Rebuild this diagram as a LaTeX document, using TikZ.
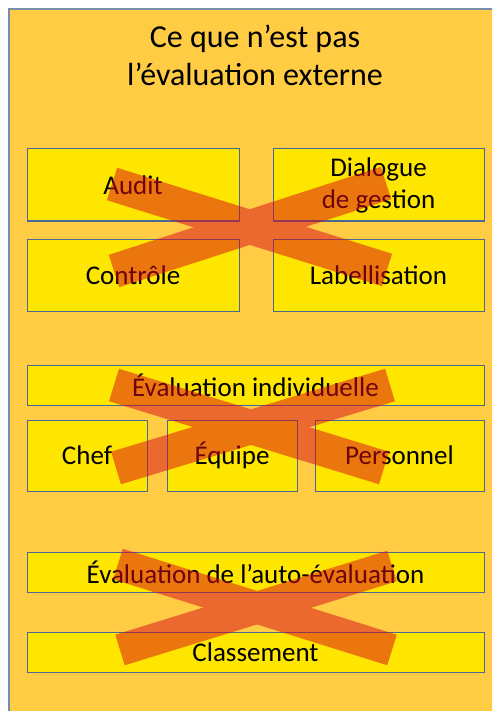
\documentclass[tikz,border=0pt]{standalone}
\usepackage{fontspec}
\setmainfont{Carlito}

\definecolor{fond}{HTML}{FFCC44}
\definecolor{jaune}{HTML}{FFE600}
\definecolor{bord}{HTML}{4A6892}
\definecolor{croix}{RGB}{217,8,26}

\tikzset{
  boite/.style={draw=bord, line width=1pt, fill=jaune, inner sep=0pt,
    align=center, font=\fontsize{27}{32}\selectfont},
  barre/.style={croix, line width=34pt},
}

\begin{document}
\begin{tikzpicture}[x=1pt, y=-1pt]

    \useasboundingbox (0, 0) rectangle (492, 711);
    \clip (0, 0) rectangle (492, 711);

    % Cadre
    \fill[white] (0, 0) rectangle (492, 711);
    \draw[bord!75, line width=2pt, fill=fond] (9, 9) rectangle (520, 740);

    % Titre
    \node[align=center, font=\fontsize{32}{38}\selectfont] (titre) at (255, 55)
      {Ce que n'est pas\\l'évaluation externe};

    % Boîtes
    \node[boite, minimum width=212, minimum height=72] (audit) at (133, 185) {Audit};
    \node[boite, minimum width=211, minimum height=72] (dialogue) at (378.5, 185) {Dialogue\\de gestion};
    \node[boite, minimum width=212, minimum height=72] (controle) at (133, 275) {Contrôle};
    \node[boite, minimum width=211, minimum height=72] (label) at (378.5, 275) {Labellisation};

    \node[boite, minimum width=457, minimum height=40] (indiv) at (255.5, 385) {Évaluation individuelle};
    \node[boite, minimum width=120, minimum height=71] (chef) at (87, 455.5) {Chef};
    \node[boite, minimum width=130, minimum height=71] (equipe) at (232, 455.5) {Équipe};
    \node[boite, minimum width=169, minimum height=71] (perso) at (399.5, 455.5) {Personnel};

    \node[boite, minimum width=457, minimum height=40] (autoeval) at (255.5, 572) {Évaluation de l'auto-évaluation};
    \node[boite, minimum width=457, minimum height=40] (classement) at (255.5, 652) {Classement};

    % Croix
    \begin{scope}[transparency group, opacity=0.5]
      \draw[barre] (112, 184) -- (387, 270);
      \draw[barre] (114, 271) -- (386, 183);
      \draw[barre] (114, 385) -- (384, 468);
      \draw[barre] (116, 468) -- (390, 385);
      \draw[barre, line width=32pt] (118, 564) -- (392, 650);
      \draw[barre, line width=32pt] (120, 650) -- (392, 566);
    \end{scope}

\end{tikzpicture}
\end{document}
